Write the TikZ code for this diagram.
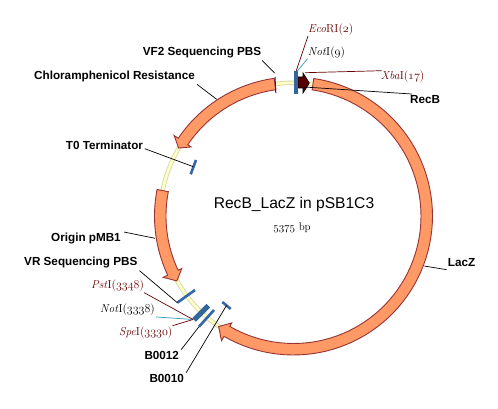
\documentclass[tikz,border=0pt]{standalone}
\usepackage{fontspec}
\usetikzlibrary{calc}
\newfontfamily\lsans{Liberation Sans}
\newcommand{\osn}[1]{$\mathnormal{#1}$}
\definecolor{geneorange}{HTML}{FF9966}
\definecolor{geneedge}{HTML}{993333}
\definecolor{ringfill}{HTML}{FFFFCC}
\definecolor{ringedge}{HTML}{D9D9A0}
\definecolor{barblue}{HTML}{3366AA}
\definecolor{bardark}{HTML}{336699}
\definecolor{sitered}{HTML}{660000}
\definecolor{siteteal}{HTML}{3399BB}
\definecolor{vfpurple}{HTML}{4B0082}
\tikzset{
  genearrow/.style={fill=geneorange,draw=geneedge,line width=0.9pt,line join=miter},
  featlabel/.style={font=\lsans\bfseries\fontsize{11.7}{12}\selectfont,inner sep=0pt,anchor=west,text=black},
  sitelabel/.style={font=\fontsize{11.5}{12}\selectfont,inner sep=0pt,anchor=west,text=sitered},
  sitelabelblack/.style={font=\fontsize{11.5}{12}\selectfont,inner sep=0pt,anchor=west,text=black},
  leader/.style={draw=black,line width=0.7pt},
  redleader/.style={draw=sitered,line width=0.7pt},
  tealleader/.style={draw=siteteal,line width=0.7pt},
  bluebar/.style={draw=barblue,line width=2.6pt},
  darkbar/.style={draw=bardark,line width=5pt},
}
\newcommand{\genearc}[3]{%
  \draw[genearrow]
    plot[domain=#1:#2,samples=70] ({293.5+139*cos(\x)},{216-139*sin(\x)})
    -- ({293.5+144*cos(#2)},{216-144*sin(#2)})
    -- ({293.5+133.5*cos(#3)},{216-133.5*sin(#3)})
    -- ({293.5+123.5*cos(#2)},{216-123.5*sin(#2)})
    -- ({293.5+127.5*cos(#2)},{216-127.5*sin(#2)})
    -- plot[domain=#2:#1,samples=70] ({293.5+127.5*cos(\x)},{216-127.5*sin(\x)})
    -- cycle;}
\begin{document}
\begin{tikzpicture}[x=1pt,y=-1pt]
\useasboundingbox[fill=white] (0,0) rectangle (498,409);
% backbone
\draw[ringedge,line width=4.4pt] (293.5,216) circle [radius=133.2];
\draw[ringfill,line width=2.6pt] (293.5,216) circle [radius=133.2];
% genes
\genearc{81.6}{-120}{-124.1}
\genearc{98}{146}{149.4}
\genearc{169}{205.2}{209.1}
% named bar ends
\coordinate (vfA) at (275,77);
\coordinate (vfB) at (275.8,93);
\coordinate (ecoA) at (296,71.5);
\coordinate (ecoB) at (296,94);
\coordinate (toA) at (196,160);
\coordinate (toB) at (190.7,174.3);
\coordinate (vrA) at (177.3,302.7);
\coordinate (vrB) at (195,290);
\coordinate (bigA) at (194,320);
\coordinate (bigB) at (208.3,305.7);
\coordinate (b12A) at (199,326.7);
\coordinate (b12B) at (214,310);
\coordinate (b10A) at (222.3,302);
\coordinate (b10B) at (230.7,309);
% RecB
\draw[fill=sitered!85!black,draw=black,line width=0.7pt,line join=miter]
  (298,77) -- (303,77) -- (303,73) -- (309.3,83) -- (303,93) -- (303,88) -- (298,88) -- cycle;
% bars
\draw[vfpurple,line width=1pt] (vfA) -- (vfB);
\draw[bardark,line width=3.8pt] (ecoA) -- (ecoB);
\draw[bluebar] (toA) -- (toB);
\draw[bluebar] (vrA) -- (vrB);
\draw[darkbar] (bigA) -- (bigB);
\draw[bluebar] (b12A) -- (b12B);
\draw[bluebar] (b10A) -- (b10B);
% title
\node[font=\lsans\fontsize{15.6}{16}\selectfont,inner sep=0pt] (title) at (294,204) {RecB\_LacZ in pSB1C3};
\node[font=\fontsize{11}{12}\selectfont,inner sep=0pt] (size) at (292,228) {\osn{5375} bp};
% feature labels
\node[featlabel] (lVF) at (142.7,52.7) {VF2 Sequencing PBS};
\node[featlabel] (lCM) at (34,76.7) {Chloramphenicol Resistance};
\node[featlabel] (lTO) at (65.7,145.7) {T0 Terminator};
\node[featlabel] (lOR) at (51,238) {Origin pMB1};
\node[featlabel] (lVR) at (24,262) {VR Sequencing PBS};
\node[featlabel] (lB12) at (144.3,355) {B0012};
\node[featlabel] (lB10) at (149.3,378) {B0010};
\node[featlabel] (lLZ) at (447.7,262.7) {LacZ};
\node[featlabel] (lRB) at (410,99.3) {RecB};
% site labels
\node[sitelabel] (sEco) at (308,30) {\textit{Eco}RI(\osn{2})};
\node[sitelabelblack] (sNot) at (307.7,52.7) {\textit{Not}I(\osn{9})};
\node[sitelabel] (sXba) at (380.7,76.7) {\textit{Xba}I(\osn{17})};
\node[sitelabel] (sPst) at (91,285.7) {\textit{Pst}I(\osn{3348})};
\node[sitelabelblack] (sNot2) at (100,310) {\textit{Not}I(\osn{3338})};
\node[sitelabel] (sSpe) at (119,332.7) {\textit{Spe}I(\osn{3330})};
% leader targets
\coordinate (tVF) at (274.5,73);
\coordinate (tCM) at (216.7,99.3);
\coordinate (tTO) at (193.3,166.7);
\coordinate (tOR) at (155,238.3);
\coordinate (tLZ) at (424.3,266);
\coordinate (tRB) at (304,87);
\coordinate (tNot) at (296.7,71.7);
\coordinate (tXba) at (305,72.7);
\coordinate (tBig) at (193,319.5);
% leaders
\draw[leader] ([shift={(0.7,2)}]lVF.south east) -- (tVF);
\draw[leader] ([shift={(2,2)}]lCM.south east) -- (tCM);
\draw[leader] ([shift={(1.5,3)}]lTO.east) -- (tTO);
\draw[leader] ([shift={(3,-6)}]lOR.east) -- (tOR);
\draw[leader] ([shift={(2,3)}]lVR.south east) -- (vrA);
\draw[leader] ([shift={(2,-1)}]lB12.north east) -- (b12A);
\draw[leader] ([shift={(2,-1)}]lB10.north east) -- ($(b10A)!0.5!(b10B)$);
\draw[leader] ([shift={(-1,7)}]lLZ.west) -- (tLZ);
\draw[leader] ([shift={(2,-1)}]lRB.north west) -- (tRB);
\draw[redleader] (sEco.south west) -- (ecoA);
\draw[tealleader] (sNot.south west) -- (tNot);
\draw[redleader] ([shift={(1,-6)}]sXba.west) -- (tXba);
\draw[redleader] ([shift={(0,1)}]sPst.south east) -- (tBig);
\draw[tealleader] ([shift={(1,1)}]sNot2.south east) -- (tBig);
\draw[redleader] ([shift={(0,-1)}]sSpe.north east) -- (tBig);
\end{tikzpicture}
\end{document}
